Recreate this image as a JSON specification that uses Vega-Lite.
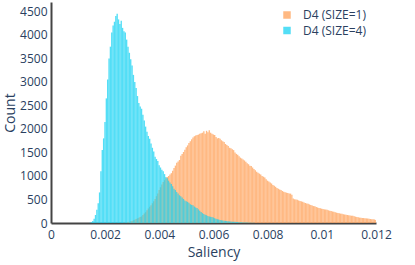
{
  "$schema": "https://vega.github.io/schema/vega-lite/v6.json",
  "autosize": {"type": "none"},
  "padding": {"left": 51, "top": 2, "right": 39, "bottom": 42},
  "width": 325,
  "height": 221,
  "background": "white",
  "data": {"values": [
    {"x":0.0014,"o":0,"c":5},{"x":0.00145,"o":0,"c":15},{"x":0.0015,"o":0,"c":40},{"x":0.00155,"o":0,"c":90},
    {"x":0.0016,"o":0,"c":170},{"x":0.00165,"o":0,"c":280},{"x":0.0017,"o":0,"c":420},{"x":0.00175,"o":0,"c":650},
    {"x":0.0018,"o":0,"c":1100},{"x":0.00185,"o":0,"c":1550},{"x":0.0019,"o":0,"c":1800},{"x":0.00195,"o":0,"c":2150},
    {"x":0.002,"o":0,"c":2650},{"x":0.00205,"o":0,"c":3050},{"x":0.0021,"o":0,"c":3500},{"x":0.00215,"o":0,"c":3750},
    {"x":0.0022,"o":0,"c":4050},{"x":0.00225,"o":0,"c":4200},{"x":0.0023,"o":0,"c":4280},{"x":0.00235,"o":0,"c":4400},
    {"x":0.0024,"o":0,"c":4450},{"x":0.00245,"o":0,"c":4330},{"x":0.0025,"o":0,"c":4230},{"x":0.00255,"o":0,"c":4300},
    {"x":0.0026,"o":2,"c":4150},{"x":0.00265,"o":3,"c":4080},{"x":0.0027,"o":5,"c":4050},{"x":0.00275,"o":10,"c":3900},
    {"x":0.0028,"o":15,"c":3750},{"x":0.00285,"o":25,"c":3620},{"x":0.0029,"o":35,"c":3480},{"x":0.00295,"o":45,"c":3350},
    {"x":0.003,"o":60,"c":3150},{"x":0.00305,"o":70,"c":3000},{"x":0.0031,"o":85,"c":2870},{"x":0.00315,"o":100,"c":2700},
    {"x":0.0032,"o":110,"c":2550},{"x":0.00325,"o":125,"c":2480},{"x":0.0033,"o":140,"c":2430},{"x":0.00335,"o":170,"c":2300},
    {"x":0.0034,"o":200,"c":2180},{"x":0.00345,"o":230,"c":2050},{"x":0.0035,"o":270,"c":1940},{"x":0.00355,"o":310,"c":1850},
    {"x":0.0036,"o":345,"c":1790},{"x":0.00365,"o":380,"c":1690},{"x":0.0037,"o":420,"c":1600},{"x":0.00375,"o":465,"c":1520},
    {"x":0.0038,"o":510,"c":1410},{"x":0.00385,"o":570,"c":1360},{"x":0.0039,"o":630,"c":1320},{"x":0.00395,"o":700,"c":1230},
    {"x":0.004,"o":760,"c":1180},{"x":0.00405,"o":820,"c":1130},{"x":0.0041,"o":870,"c":1100},{"x":0.00415,"o":910,"c":1040},
    {"x":0.0042,"o":950,"c":980},{"x":0.00425,"o":980,"c":950},{"x":0.0043,"o":1000,"c":900},{"x":0.00435,"o":1030,"c":860},
    {"x":0.0044,"o":1060,"c":830},{"x":0.00445,"o":1110,"c":780},{"x":0.0045,"o":1170,"c":730},{"x":0.00455,"o":1220,"c":700},
    {"x":0.0046,"o":1280,"c":660},{"x":0.00465,"o":1310,"c":630},{"x":0.0047,"o":1340,"c":590},{"x":0.00475,"o":1430,"c":570},
    {"x":0.0048,"o":1470,"c":540},{"x":0.00485,"o":1510,"c":510},{"x":0.0049,"o":1560,"c":480},{"x":0.00495,"o":1610,"c":460},
    {"x":0.005,"o":1650,"c":450},{"x":0.00505,"o":1700,"c":430},{"x":0.0051,"o":1740,"c":400},{"x":0.00515,"o":1780,"c":385},
    {"x":0.0052,"o":1820,"c":375},{"x":0.00525,"o":1845,"c":350},{"x":0.0053,"o":1860,"c":330},{"x":0.00535,"o":1870,"c":320},
    {"x":0.0054,"o":1880,"c":290},{"x":0.00545,"o":1900,"c":260},{"x":0.0055,"o":1910,"c":235},{"x":0.00555,"o":1920,"c":210},
    {"x":0.0056,"o":1950,"c":190},{"x":0.00565,"o":1900,"c":175},{"x":0.0057,"o":1960,"c":165},{"x":0.00575,"o":1930,"c":150},
    {"x":0.0058,"o":1970,"c":140},{"x":0.00585,"o":1920,"c":132},{"x":0.0059,"o":1900,"c":125},{"x":0.00595,"o":1880,"c":115},
    {"x":0.006,"o":1870,"c":100},{"x":0.00605,"o":1830,"c":90},{"x":0.0061,"o":1800,"c":80},{"x":0.00615,"o":1810,"c":72},
    {"x":0.0062,"o":1790,"c":65},{"x":0.00625,"o":1760,"c":58},{"x":0.0063,"o":1740,"c":52},{"x":0.00635,"o":1720,"c":48},
    {"x":0.0064,"o":1680,"c":44},{"x":0.00645,"o":1660,"c":40},{"x":0.0065,"o":1640,"c":36},{"x":0.00655,"o":1600,"c":33},
    {"x":0.0066,"o":1590,"c":30},{"x":0.00665,"o":1570,"c":28},{"x":0.0067,"o":1550,"c":26},{"x":0.00675,"o":1500,"c":24},
    {"x":0.0068,"o":1470,"c":21},{"x":0.00685,"o":1450,"c":19},{"x":0.0069,"o":1420,"c":17},{"x":0.00695,"o":1390,"c":15},
    {"x":0.007,"o":1370,"c":14},{"x":0.00705,"o":1350,"c":12},{"x":0.0071,"o":1330,"c":11},{"x":0.00715,"o":1300,"c":9},
    {"x":0.0072,"o":1270,"c":8},{"x":0.00725,"o":1250,"c":7},{"x":0.0073,"o":1220,"c":6},{"x":0.00735,"o":1210,"c":5},
    {"x":0.0074,"o":1180,"c":4},{"x":0.00745,"o":1150,"c":3},{"x":0.0075,"o":1120,"c":2},{"x":0.00755,"o":1090,"c":0},
    {"x":0.0076,"o":1070,"c":0},{"x":0.00765,"o":1050,"c":0},{"x":0.0077,"o":1030,"c":0},{"x":0.00775,"o":1000,"c":0},
    {"x":0.0078,"o":985,"c":0},{"x":0.00785,"o":970,"c":0},{"x":0.0079,"o":930,"c":0},{"x":0.00795,"o":900,"c":0},
    {"x":0.008,"o":880,"c":0},{"x":0.00805,"o":860,"c":0},{"x":0.0081,"o":840,"c":0},{"x":0.00815,"o":810,"c":0},
    {"x":0.0082,"o":790,"c":0},{"x":0.00825,"o":770,"c":0},{"x":0.0083,"o":745,"c":0},{"x":0.00835,"o":730,"c":0},
    {"x":0.0084,"o":710,"c":0},{"x":0.00845,"o":700,"c":0},{"x":0.0085,"o":680,"c":0},{"x":0.00855,"o":665,"c":0},
    {"x":0.0086,"o":655,"c":0},{"x":0.00865,"o":645,"c":0},{"x":0.0087,"o":640,"c":0},{"x":0.00875,"o":630,"c":0},
    {"x":0.0088,"o":625,"c":0},{"x":0.00885,"o":600,"c":0},{"x":0.0089,"o":520,"c":0},{"x":0.00895,"o":505,"c":0},
    {"x":0.009,"o":500,"c":0},{"x":0.00905,"o":495,"c":0},{"x":0.0091,"o":480,"c":0},{"x":0.00915,"o":470,"c":0},
    {"x":0.0092,"o":460,"c":0},{"x":0.00925,"o":450,"c":0},{"x":0.0093,"o":435,"c":0},{"x":0.00935,"o":425,"c":0},
    {"x":0.0094,"o":415,"c":0},{"x":0.00945,"o":410,"c":0},{"x":0.0095,"o":395,"c":0},{"x":0.00955,"o":385,"c":0},
    {"x":0.0096,"o":370,"c":0},{"x":0.00965,"o":360,"c":0},{"x":0.0097,"o":355,"c":0},{"x":0.00975,"o":340,"c":0},
    {"x":0.0098,"o":330,"c":0},{"x":0.00985,"o":320,"c":0},{"x":0.0099,"o":315,"c":0},{"x":0.00995,"o":305,"c":0},
    {"x":0.01,"o":300,"c":0},{"x":0.01005,"o":290,"c":0},{"x":0.0101,"o":285,"c":0},{"x":0.01015,"o":280,"c":0},
    {"x":0.0102,"o":270,"c":0},{"x":0.01025,"o":260,"c":0},{"x":0.0103,"o":255,"c":0},{"x":0.01035,"o":245,"c":0},
    {"x":0.0104,"o":240,"c":0},{"x":0.01045,"o":230,"c":0},{"x":0.0105,"o":220,"c":0},{"x":0.01055,"o":215,"c":0},
    {"x":0.0106,"o":210,"c":0},{"x":0.01065,"o":200,"c":0},{"x":0.0107,"o":195,"c":0},{"x":0.01075,"o":185,"c":0},
    {"x":0.0108,"o":180,"c":0},{"x":0.01085,"o":175,"c":0},{"x":0.0109,"o":170,"c":0},{"x":0.01095,"o":165,"c":0},
    {"x":0.011,"o":160,"c":0},{"x":0.01105,"o":155,"c":0},{"x":0.0111,"o":155,"c":0},{"x":0.01115,"o":145,"c":0},
    {"x":0.0112,"o":135,"c":0},{"x":0.01125,"o":125,"c":0},{"x":0.0113,"o":120,"c":0},{"x":0.01135,"o":115,"c":0},
    {"x":0.0114,"o":112,"c":0},{"x":0.01145,"o":108,"c":0},{"x":0.0115,"o":105,"c":0},{"x":0.01155,"o":100,"c":0},
    {"x":0.0116,"o":98,"c":0},{"x":0.01165,"o":96,"c":0},{"x":0.0117,"o":90,"c":0},{"x":0.01175,"o":85,"c":0},
    {"x":0.0118,"o":82,"c":0},{"x":0.01185,"o":78,"c":0},{"x":0.0119,"o":75,"c":0},{"x":0.01195,"o":62,"c":0}
  ]},
  "transform": [{"fold": ["o", "c"], "as": ["s", "n"]}],
  "mark": {"type": "bar", "opacity": 0.75, "binSpacing": 0, "clip": true, "strokeWidth": 0},
  "encoding": {
    "x": {
      "field": "x", "type": "quantitative",
      "bin": {"binned": true, "step": 0.00005},
      "scale": {"domain": [0, 0.012], "nice": false, "zero": false},
      "axis": {
        "title": "Saliency",
        "values": [0, 0.002, 0.004, 0.006, 0.008, 0.01, 0.012],
        "format": "~g",
        "labelFlush": false, "labelOverlap": false,
        "labelPadding": 6, "titlePadding": 5
      }
    },
    "y": {
      "field": "n", "type": "quantitative", "stack": null,
      "scale": {"domain": [0, 4700], "nice": false},
      "axis": {
        "title": "Count",
        "values": [0, 500, 1000, 1500, 2000, 2500, 3000, 3500, 4000, 4500],
        "format": "d",
        "labelPadding": 4, "titlePadding": 2
      }
    },
    "color": {
      "field": "s", "type": "nominal",
      "scale": {"domain": ["o", "c"], "range": ["#FFA15A", "#19D3F3"]},
      "legend": {
        "title": null,
        "orient": "none", "legendX": 230, "legendY": 7,
        "labelExpr": "datum.label == 'o' ? 'D4 (SIZE=1)' : 'D4 (SIZE=4)'",
        "symbolType": "square", "symbolSize": 56, "symbolOpacity": 0.75,
        "symbolStrokeWidth": 0,
        "labelFont": "Open Sans", "labelFontSize": 12, "labelColor": "#2a3f5f",
        "labelOffset": 10, "rowPadding": 3.5, "padding": 0
      }
    }
  },
  "config": {
    "view": {"stroke": null},
    "axis": {
      "grid": false, "ticks": false,
      "domainColor": "#444", "domainWidth": 2,
      "labelFont": "Open Sans", "labelFontSize": 12, "labelColor": "#2a3f5f",
      "titleFont": "Open Sans", "titleFontSize": 14, "titleFontWeight": "normal", "titleColor": "#2a3f5f"
    }
  }
}
